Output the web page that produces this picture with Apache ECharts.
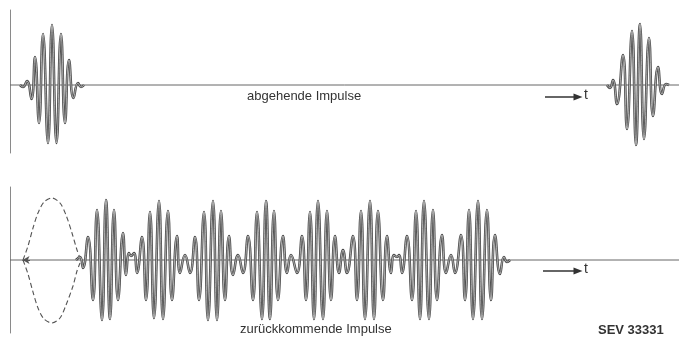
<!DOCTYPE html>
<html><head><meta charset="utf-8">
<script src="https://cdn.jsdelivr.net/npm/echarts@6/dist/echarts.min.js"></script>
<style>html,body{margin:0;padding:0;background:#fff}#c{width:679px;height:347px}</style>
</head><body><div id="c"></div>
<script>
// time (x) and amplitude (y); baseline = 0
var outgoingPulse1 = [[20,0],[23,-2],[27,4],[31.5,-14],[35,28],[39,-38],[43,51],[48,-58],[52,60],[56.5,-58],[61,51],[65,-38],[69,25],[73.5,-13],[78,2],[81,-2],[84,0]];
var outgoingPulse2 = [[607,0],[610,-3],[613,5],[617,-19],[623,30],[627,-44],[632,54],[636,-60],[640,61],[644,-54],[649,47],[653,-31],[658,18],[662,-9],[666,1],[669,0]];
var outgoingBase = [[10,0],[679,0]];
var returning = [[76,0],[80,3],[83,-8],
 [88,23],[93,-40],[97,50],[102,-60],[106,60],[110,-59],[114,50],[118,-40],[123,27],[126,-15],[129,7],[131,4],[134,7],[137,-13],
 [142,23],[146,-40],[150,48],[154,-58],[159,59],[163,-59],[168,49],[172,-40],[177,24],[180,-13],[185,5],[190,-13],
 [195,23],[199,-40],[204,48],[208,-60],[213,59],[217,-60],[221,49],[225,-40],[229,24],[233,-15],[238,5],[243,-13],
 [248,24],[253,-40],[257,48],[262,-59],[266,59],[270,-59],[274,49],[278,-40],[283,24],[287,-13],[291,5],[297,-13],
 [302,24],[306,-40],[310,48],[314,-59],[318,59],[323,-59],[327,49],[331,-40],[335,24],[339,-13],[343,10],[347,-13],
 [353,24],[357,-40],[361,49],[365,-59],[370,59],[374,-59],[378,49],[383,-40],[387,24],[391,-13],[394,5],[397,3],[399,5],[402,-13],
 [407,24],[412,-40],[416,49],[420,-59],[424,59],[429,-59],[433,50],[437,-40],[442,25],[446,-13],[451,5],[455,-13],
 [461,25],[465,-40],[469,50],[473,-59],[478,59],[482,-59],[487,50],[491,-40],[495,25],[500,-14],[504,3],[507,-2],[510,0]];
var returningBase = [[10,0],[679,0]];
var envelopeUpper = [[23,0],[28,14],[33,32],[38,47],[44,58],[52,62],[60,57],[66,45],[72,27],[77,10],[80,2]];
var envelopeLower = [[23,0],[28,-14],[33,-32],[38,-48],[44,-59],[52,-63],[60,-58],[66,-45],[73,-26],[77,-11],[80,-3]];
var arrowTop = [[545,-12],[578,-12]];
var arrowBottom = [[543,-11],[578,-11]];
var labels = ['abgehende Impulse','zurückkommende Impulse','SEV 33331','t'];

var chart = echarts.init(document.getElementById('c'), null, {renderer:'canvas'});
var FONT = '"Liberation Sans", Arial, sans-serif';
function xa(i){return {gridIndex:i,type:'value',min:10,max:679,show:false};}
function ya(i,mn,mx){return {gridIndex:i,type:'value',min:mn,max:mx,splitLine:{show:false},axisTick:{show:false},axisLabel:{show:false},
  axisLine:{show:true,onZero:false,lineStyle:{color:'#8a8a8a',width:1}}};}
var waveOuter = {color:'#4a4a4a',width:2.6};
var waveInner = {color:'#d8d8d8',width:0.7};
function wave(data,g,style,z){return {type:'line',xAxisIndex:g,yAxisIndex:g,data:data,smooth:0.5,symbol:'none',lineStyle:style,z:z,silent:true};}
function arrowML(coords){return {silent:true,symbol:['none','triangle'],symbolSize:[7,9],lineStyle:{color:'#333',width:1.5,type:'solid'},label:{show:false},
  data:[[{coord:coords[0]},{coord:coords[1]}]]};}
var series = [
  {type:'line',xAxisIndex:0,yAxisIndex:0,data:outgoingBase,symbol:'none',lineStyle:{color:'#666',width:1},z:1,markLine:arrowML(arrowTop)},
  wave(outgoingPulse1,0,waveOuter,2), wave(outgoingPulse1,0,waveInner,3),
  wave(outgoingPulse2,0,waveOuter,2), wave(outgoingPulse2,0,waveInner,3),
  {type:'line',xAxisIndex:1,yAxisIndex:1,data:returningBase,symbol:'none',lineStyle:{color:'#666',width:1},z:1,markLine:arrowML(arrowBottom)},
  wave(returning,1,waveOuter,2), wave(returning,1,waveInner,3),
  {type:'line',xAxisIndex:1,yAxisIndex:1,data:envelopeUpper,smooth:0.3,symbol:'none',lineStyle:{color:'#555',width:1.1,type:[5,3]},z:2},
  {type:'line',xAxisIndex:1,yAxisIndex:1,data:envelopeLower,smooth:0.3,symbol:'none',lineStyle:{color:'#555',width:1.1,type:[5,3]},z:2},
  {type:'line',xAxisIndex:1,yAxisIndex:1,data:[[30,0],[22,0]],symbol:'none',lineStyle:{width:0},z:2,
    markLine:{silent:true,symbol:['none','arrow'],symbolSize:[6,7],lineStyle:{color:'#555',width:1,type:'solid'},label:{show:false},data:[[{coord:[30,0]},{coord:[22.5,0]}]]}}
];
chart.setOption({
  animation:false,
  backgroundColor:'#fff',
  grid:[{left:10,right:0,top:10,height:143},{left:10,right:0,top:187,height:146}],
  xAxis:[xa(0),xa(1)],
  yAxis:[ya(0,-68,75),ya(1,-73,73)],
  series:series,
  graphic:[
    {type:'text',left:247,top:90,style:{text:labels[0],font:'13px '+FONT,fill:'#333'}},
    {type:'text',left:584,top:88,style:{text:labels[3],font:'14px '+FONT,fill:'#333'}},
    {type:'text',left:584,top:262,style:{text:labels[3],font:'14px '+FONT,fill:'#333'}},
    {type:'text',left:240,top:323,style:{text:labels[1],font:'13px '+FONT,fill:'#333'}},
    {type:'text',left:598,top:324,style:{text:labels[2],font:'bold 13px '+FONT,fill:'#333'}}
  ]
});
</script></body></html>
